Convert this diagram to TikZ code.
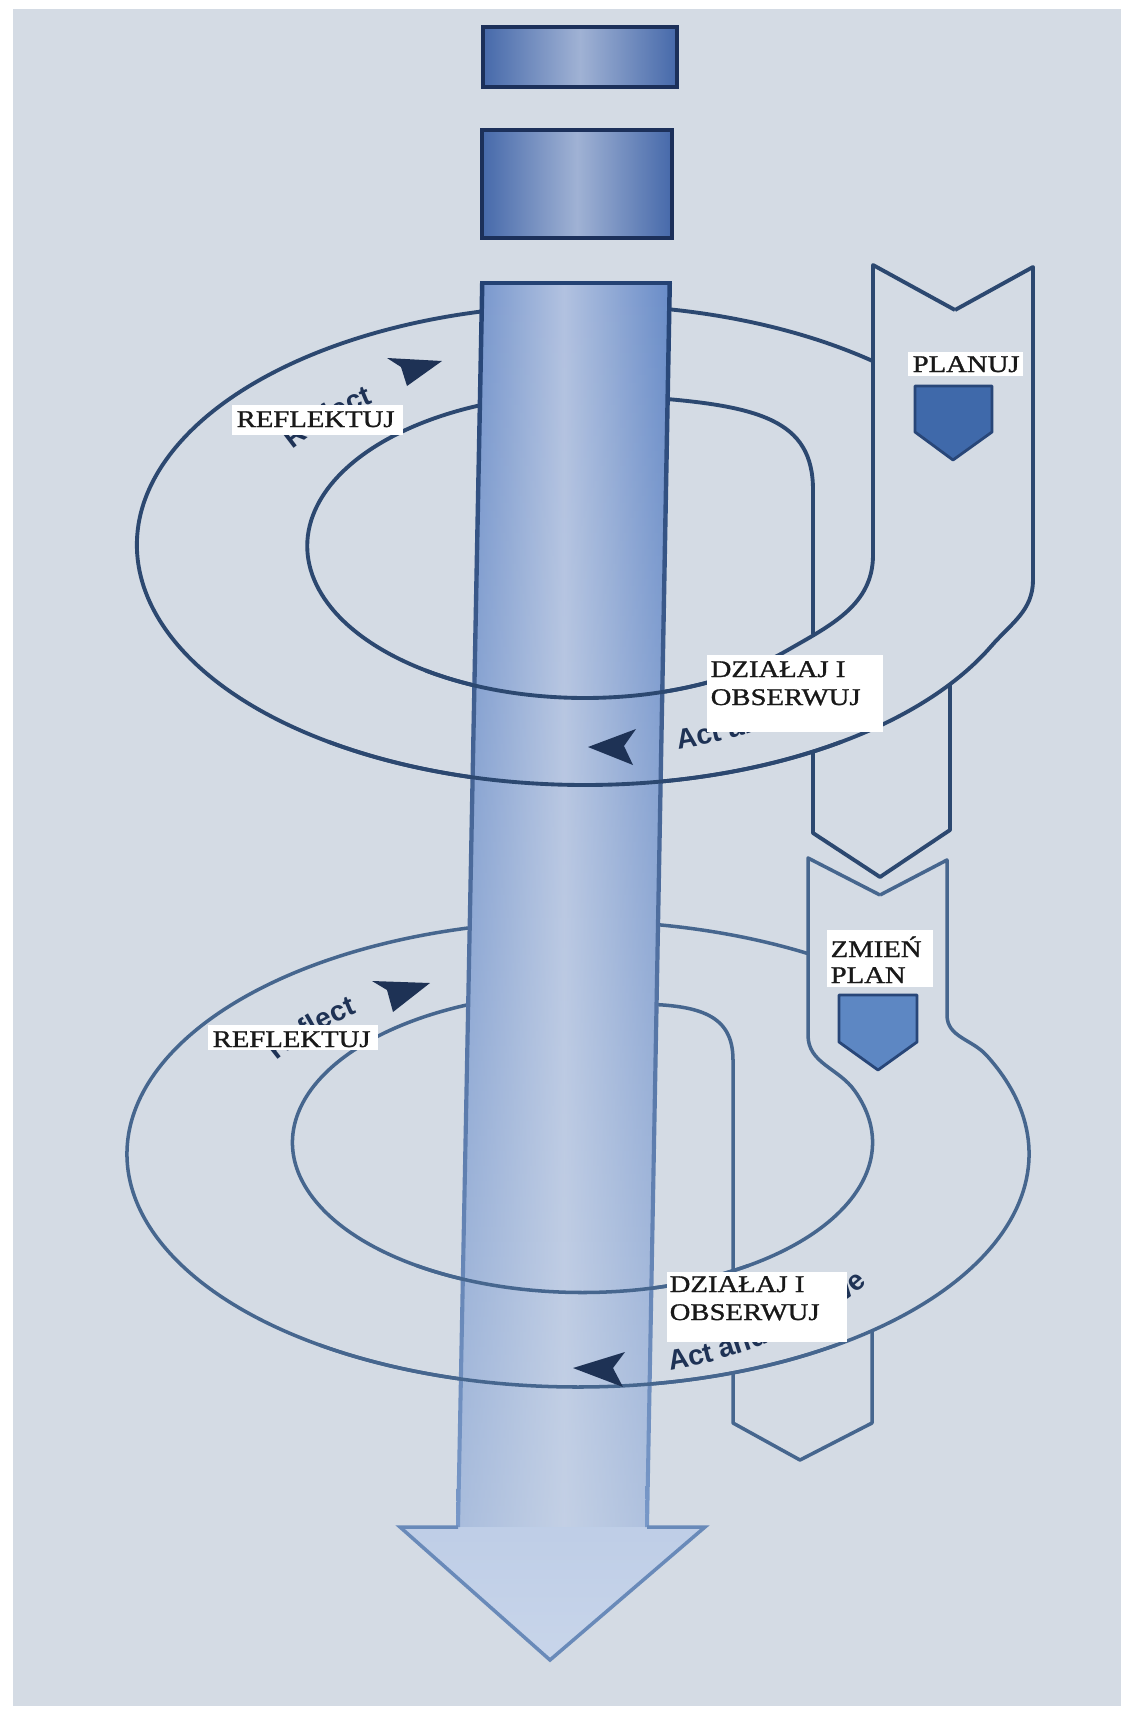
\documentclass[tikz,border=0pt]{standalone}
\usepackage{fontspec}
\newfontfamily\lblfont[FakeStretch=1.2,FakeBold=1.2]{Liberation Serif}
\newfontfamily\arrfont{Liberation Sans}
\newcommand\rsPathFont{\arrfont\bfseries\fontsize{8}{9}\selectfont}
\usetikzlibrary{decorations.text,fadings}

\definecolor{bg}{RGB}{212,219,228}
\definecolor{ringA}{RGB}{44,72,112}
\definecolor{ringB}{RGB}{70,102,142}
\definecolor{navy}{RGB}{30,50,85}
\definecolor{colEdge}{RGB}{105,140,200}
\definecolor{colMid}{RGB}{178,194,224}
\definecolor{colFade}{RGB}{205,216,232}
\definecolor{edgeDark}{RGB}{36,66,115}
\definecolor{edgeLight}{RGB}{120,152,200}
\definecolor{arrowFill}{RGB}{200,213,234}
\definecolor{arrowLine}{RGB}{105,138,185}
\definecolor{shieldA}{RGB}{63,105,170}
\definecolor{shieldB}{RGB}{93,135,195}
\definecolor{shieldLine}{RGB}{40,70,120}
\definecolor{blkEdge}{RGB}{70,105,170}
\definecolor{blkMid}{RGB}{160,178,212}
\definecolor{blkLine}{RGB}{28,48,90}
\definecolor{inkc}{RGB}{25,25,25}

\tikzfading[name=fadedown, top color=transparent!100, bottom color=transparent!35]

\begin{document}
\begin{tikzpicture}[x=0.01cm,y=0.01cm,
  ringU/.style={draw=ringA,line width=1.1pt,line join=round},
  ringL/.style={draw=ringB,line width=1.0pt,line join=round},
  lbl/.style={font=\lblfont\fontsize{6.8}{8}\selectfont,text=inkc,inner sep=0pt,anchor=base west},
  dart/.style={fill=navy},
  topblock/.style={left color=blkEdge,right color=blkEdge,middle color=blkMid},
  blockline/.style={draw=blkLine,line width=1.3pt},
  pathtext/.style={decorate,decoration={text along path,text color=navy,text={|\rsPathFont|#1}}},
]
\useasboundingbox (0,0) rectangle (1132,-1715);
\fill[white] (0,0) rectangle (1132,-1715);
\fill[bg] (13,-9) rectangle (1121,-1706);

% ---------- upper ring (back parts) ----------
\draw[ringU] (955,-310) -- (1033,-267) -- (1033,-580) to[out=-90,in=49] (991,-646.4)
  arc[start angle=-25,end angle=-256.8,x radius=448,y radius=240];
\draw[ringU] (955,-310) -- (873,-265) -- (873,-555) to[out=-90,in=30] (787.2,-650.4)
  arc[start angle=-43.4,end angle=-247.8,x radius=278,y radius=152];
\draw[ringU] (585,-545) ++(82:448 and 240) arc[start angle=82,end angle=50,x radius=448,y radius=240];
\draw[ringU] (640,-397) .. controls (760,-405) and (813,-420) .. (813,-490) -- (813,-634);
\draw[ringU] (813,-752) -- (813,-833) -- (880,-877) -- (950,-830) -- (950,-684);

% ---------- lower ring (back parts) ----------
\draw[ringL] (880,-895) -- (947,-860) -- (947,-1015) to[out=-90,in=132] (986.7,-1055.5)
  arc[start angle=25,end angle=-256.2,x radius=451,y radius=233];
\draw[ringL] (880,-895) -- (808,-858) -- (808,-1035) to[out=-90,in=125] (855,-1091.2)
  arc[start angle=20,end angle=-246.5,x radius=290,y radius=150];
\draw[ringL] (578,-1154) ++(86:451 and 233) arc[start angle=86,end angle=59.3,x radius=451,y radius=233];
\draw[ringL] (640,-1004) .. controls (700,-1005) and (733,-1015) .. (733,-1060) -- (733,-1271);
\draw[ringL] (733,-1373) -- (733,-1423) -- (800,-1460) -- (872,-1423) -- (872,-1331);

% ---------- top blocks ----------
\shade[topblock] (483,-27) rectangle (677,-87);
\draw[blockline] (483,-27) rectangle (677,-87);
\shade[topblock] (482,-130) rectangle (672,-238);
\draw[blockline] (482,-130) rectangle (672,-238);

% ---------- column ----------
\shade[left color=colEdge,right color=colEdge,middle color=colMid]
  (482,-283) -- (670,-283) -- (647,-1527) -- (458,-1527) -- cycle;
\fill[colFade,path fading=fadedown] (482,-283) -- (670,-283) -- (647,-1527) -- (458,-1527) -- cycle;
\shade[top color=arrowFill!90!colEdge,bottom color=arrowFill] (400,-1527) -- (705,-1527) -- (550,-1660) -- cycle;
\shade[top color=edgeDark,bottom color=edgeLight] (480,-283) -- (484.5,-283) -- (460,-1527) -- (456,-1527) -- cycle;
\shade[top color=edgeDark,bottom color=edgeLight] (667.5,-283) -- (672,-283) -- (649,-1527) -- (645,-1527) -- cycle;
\draw[edgeDark,line width=1.2pt] (480,-283) -- (672,-283);
\draw[arrowLine,line width=1pt,line join=miter] (458,-1527) -- (400,-1527) -- (550,-1660) -- (705,-1527) -- (647,-1527);

% ---------- ring fronts over the column ----------
\draw[ringU] (585,-545) ++(-55:448 and 240) arc[start angle=-55,end angle=-125,x radius=448,y radius=240];
\draw[ringU] (585,-546) ++(-55:278 and 152) arc[start angle=-55,end angle=-125,x radius=278,y radius=152];
\draw[ringL] (578,-1154) ++(-55:451 and 233) arc[start angle=-55,end angle=-125,x radius=451,y radius=233];
\draw[ringL] (582.5,-1142.5) ++(-55:290 and 150) arc[start angle=-55,end angle=-125,x radius=290,y radius=150];

% ---------- texts along the rings ----------
\path[pathtext={Reflect}] (292.4,-449.6) arc[start angle=148,end angle=112,x radius=345,y radius=180];
\path[pathtext={Act and observe}] (678,-749) arc[start angle=-75.2,end angle=-22,x radius=364,y radius=211];
\path[pathtext={Reflect}] (276.9,-1060.5) arc[start angle=150,end angle=112,x radius=350,y radius=175];
\path[pathtext={Act and observe}] (670.1,-1370.5) arc[start angle=-75.3,end angle=-22,x radius=355,y radius=230];

% ---------- darts ----------
\fill[dart] (442,-361) -- (387,-358) -- (401,-367) -- (407,-386) -- cycle;
\fill[dart] (588,-747) -- (636,-729) -- (624,-746) -- (633,-765) -- cycle;
\fill[dart] (430,-983) -- (372,-981) -- (387,-990) -- (393,-1012) -- cycle;
\fill[dart] (573,-1368) -- (625,-1352) -- (613,-1368) -- (623,-1387) -- cycle;

% ---------- shields ----------
\filldraw[fill=shieldA,draw=shieldLine,line width=0.8pt,line join=round]
  (915,-386) -- (992,-386) -- (992,-432) -- (953,-460) -- (915,-432) -- cycle;
\filldraw[fill=shieldB,draw=shieldLine,line width=0.8pt,line join=round]
  (839,-995) -- (917,-995) -- (917,-1042) -- (878,-1070) -- (839,-1042) -- cycle;

% ---------- label boxes ----------
\fill[white] (232,-405) rectangle (403,-435);
\node[lbl] (reflA) at (236,-427) {REFLEKTUJ};
\fill[white] (208,-1025) rectangle (378,-1050);
\node[lbl] (reflB) at (212,-1047) {REFLEKTUJ};
\fill[white] (908,-352) rectangle (1023,-376);
\node[lbl] (plan) at (912,-372) {PLANUJ};
\fill[white] (707,-655) rectangle (883,-732);
\node[lbl] (actA1) at (710,-677) {DZIAŁAJ I};
\node[lbl] (actA2) at (710,-705) {OBSERWUJ};
\fill[white] (827,-930) rectangle (933,-987);
\node[lbl] (chg1) at (830,-957) {ZMIEŃ};
\node[lbl] (chg2) at (830,-983) {PLAN};
\fill[white] (667,-1272) rectangle (847,-1342);
\node[lbl] (actB1) at (669,-1292) {DZIAŁAJ I};
\node[lbl] (actB2) at (669,-1320) {OBSERWUJ};
\end{tikzpicture}
\end{document}
